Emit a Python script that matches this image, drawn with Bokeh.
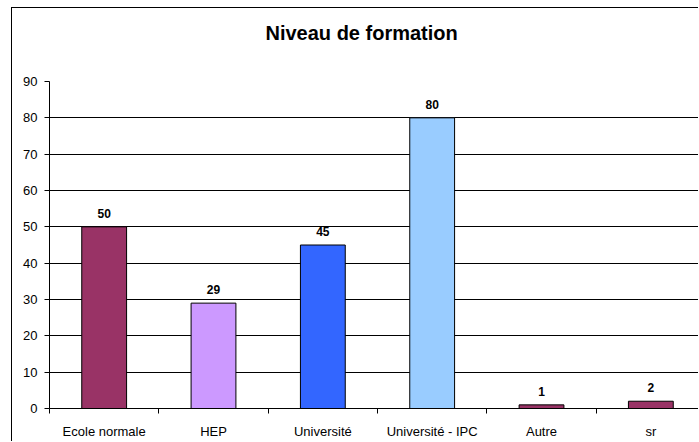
from bokeh.plotting import figure
from bokeh.models import (ColumnDataSource, Range1d, FixedTicker, LabelSet, Title,
                          LinearAxis, Grid, InlineStyleSheet)
from bokeh.core.properties import value
from bokeh.embed import file_html
from bokeh.resources import INLINE

# ---- data ----
categories = ["Ecole normale", "HEP", "Université", "Université - IPC", "Autre", "sr"]
values = [50, 29, 45, 80, 1, 2]
colors = ["#993366", "#CC99FF", "#3366FF", "#99CCFF", "#993366", "#993366"]
y_ticks = [0, 10, 20, 30, 40, 50, 60, 70, 80, 90]
chart_title = "Niveau de formation"

FONT = "Liberation Sans"

centers = [i + 0.5 for i in range(len(categories))]
bounds = [float(i) for i in range(len(categories) + 1)]

src = ColumnDataSource(dict(x=centers, top=values, color=colors,
                            label=[str(v) for v in values]))

p = figure(width=687, height=434, output_backend="svg", toolbar_location=None,
           x_range=Range1d(0, 5.945), y_range=Range1d(0, 90),
           x_axis_type=None, y_axis_type=None,
           min_border_left=37, min_border_right=0, min_border_top=73,
           min_border_bottom=34)
p.stylesheets = [InlineStyleSheet(css=":host { margin-left: 11px; margin-top: 7px; border-left: 1px solid #000; border-top: 1px solid #000; }")]
p.outline_line_color = None
p.background_fill_color = "white"
p.border_fill_color = "white"

# spacer between frame and title, then the title itself
spacer = Title(text=" ", text_font_size="10px", standoff=25)
p.add_layout(spacer, "above")
main_title = Title(text=chart_title, text_font=FONT, text_font_size="20px",
                   text_font_style="bold", text_color="#000000",
                   align="left", offset=216, standoff=0)
p.add_layout(main_title, "above")

# y axis
yticker = FixedTicker(ticks=y_ticks)
yaxis = LinearAxis(ticker=yticker)
yaxis.axis_line_color = "#000000"
yaxis.major_tick_line_color = "#000000"
yaxis.major_tick_out = 5
yaxis.major_tick_in = 0
yaxis.minor_tick_line_color = None
yaxis.major_label_text_font = FONT
yaxis.major_label_text_font_size = "13px"
yaxis.major_label_text_color = "#000000"
yaxis.major_label_standoff = 7
p.add_layout(yaxis, "left")

# x axis: labels at centers, tick marks at category boundaries
xticker = FixedTicker(ticks=centers, minor_ticks=bounds)
xaxis = LinearAxis(ticker=xticker)
xaxis.major_label_overrides = {c: n for c, n in zip(centers, categories)}
xaxis.axis_line_color = "#000000"
xaxis.major_tick_line_color = None
xaxis.major_tick_out = 5
xaxis.major_tick_in = 0
xaxis.minor_tick_line_color = "#000000"
xaxis.minor_tick_out = 5
xaxis.minor_tick_in = 0
xaxis.major_label_text_font = FONT
xaxis.major_label_text_font_size = "13px"
xaxis.major_label_text_color = "#000000"
xaxis.major_label_standoff = 10
p.add_layout(xaxis, "below")

# gridlines
p.add_layout(Grid(dimension=1, ticker=yticker, grid_line_color="#000000",
                  grid_line_width=1))

p.vbar(x="x", top="top", bottom=0, width=0.41, source=src,
       fill_color="color", line_color="#000000", line_width=1)

labels = LabelSet(x="x", y="top", text="label", source=src,
                  text_align="center", text_baseline="alphabetic", y_offset=9,
                  text_font=value(FONT), text_font_size="12px",
                  text_font_style="bold", text_color="#000000")
p.add_layout(labels)

open("out.html", "w").write(file_html(p, INLINE))
